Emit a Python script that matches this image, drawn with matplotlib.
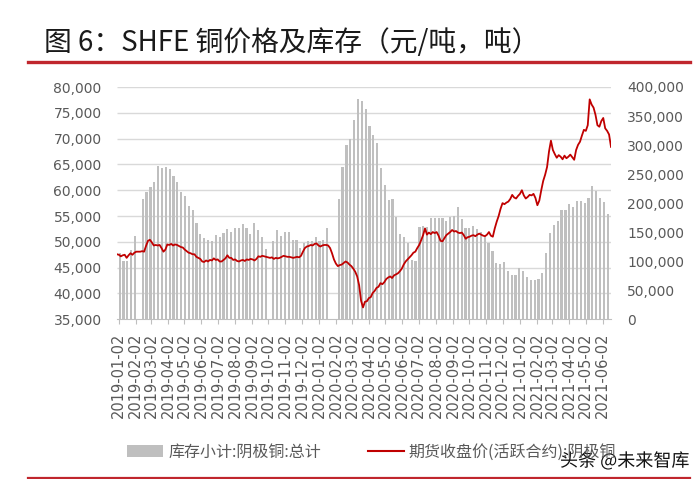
import numpy as np
import pandas as pd
import matplotlib
matplotlib.use("Agg")
import matplotlib.pyplot as plt
import matplotlib.dates as mdates
from matplotlib.patches import Patch
from matplotlib.lines import Line2D
from matplotlib.ticker import FuncFormatter
import matplotlib.patheffects as pe

plt.rcParams['font.family'] = ['Noto Sans CJK SC', 'DejaVu Sans']

# ---------------- data ----------------
title = "图 6：SHFE 铜价格及库存（元/吨，吨）"
bar_label = "库存小计:阴极铜:总计"
line_label = "期货收盘价(活跃合约):阴极铜"
watermark = "头条 @未来智库"

# weekly inventory (thousand tonnes), None = no data (holiday weeks)
inventory_k = [
    114, 100, 101, 120, 143, None,
    207, 220, 228, 237, 264, 260, 262, 258, 247, 237, 220, 212, 195, 188,
    166, 147, 140, 136, 134, 146, 142, 148, 155, 150, 157, 157, 164, 157,
    147, 165, 154, 142, 121, None,
    135, 154, 144, 151, 150, 137, 137, 122, 131, 134, 135, 142, 134, 137, 157,
    None, None,
    207, 263, 300, 310, 344, 379, 376, 362, 333, 318, 303, 260, 231, 205,
    208, 177, 147, 142, 131, 102, 100,
    159, 161, 159, 174, 174, 174, 174, 170, 177, 178, 194, 172, 157, 158,
    160, 156, 150, 142, 132, 118, 97, 96, 99, 83, 76, 76, 88, 83, 73, 68,
    67, 70, 79, 114, 148, 162, 170, 188, 188, 199, 194, 204, 204, 201, 209,
    230, 221, 209, 202, 181,
]
inventory_start = "2019-01-04"

# futures close price (thousand yuan/t), sampled roughly twice a week
price_k = [
    47.6, 47.5, 47.2, 47.4, 47.5, 46.9, 47.4, 47.8, 47.5, 47.9,
    48.1, 48.1, 48.1, 48.2, 48.1, 49.2, 50.2, 50.4, 49.9, 49.3,
    49.4, 49.3, 49.4, 48.8, 48.1, 48.5, 49.5, 49.4, 49.6, 49.3,
    49.5, 49.4, 49.2, 49.0, 48.9, 48.5, 48.2, 47.9, 47.8, 47.6,
    47.6, 47.1, 46.9, 46.7, 46.2, 46.1, 46.4, 46.2, 46.5, 46.4,
    46.8, 46.5, 46.6, 46.2, 46.2, 46.5, 46.8, 47.4, 46.9, 46.9,
    46.5, 46.6, 46.3, 46.2, 46.4, 46.5, 46.3, 46.6, 46.5, 46.7,
    46.6, 46.4, 46.7, 47.2, 47.1, 47.3, 47.2, 47.1, 47.0, 46.9,
    47.0, 46.7, 46.9, 46.8, 46.9, 47.1, 47.3, 47.2, 47.1, 47.1,
    47.0, 46.9, 47.0, 47.1, 47.0, 47.3, 48.1, 48.8, 49.1, 49.2,
    49.4, 49.3, 49.6, 49.7, 49.3, 49.1, 49.3, 49.4, 49.4, 49.3,
    48.8, 47.8, 46.6, 45.8, 45.3, 45.5, 45.6, 45.9, 46.2, 46.0,
    45.6, 45.3, 44.8, 44.2, 43.3, 41.6, 38.6, 37.3, 38.4, 38.5,
    39.1, 39.3, 40.1, 40.5, 41.1, 41.3, 42.0, 41.8, 42.2, 42.8,
    43.1, 43.3, 43.0, 43.5, 43.7, 43.9, 44.3, 44.8, 45.6, 46.2,
    46.6, 47.0, 47.4, 47.9, 48.1, 48.8, 49.4, 50.3, 51.3, 52.6,
    51.4, 51.8, 51.5, 51.9, 51.7, 51.9, 51.2, 50.2, 50.1, 50.7,
    51.3, 51.6, 51.9, 52.3, 52.0, 52.1, 51.8, 51.7, 51.8, 51.3,
    50.6, 50.9, 51.0, 51.2, 51.3, 51.1, 51.4, 51.6, 51.4, 51.2,
    51.1, 51.4, 51.9, 51.2, 51.0, 52.6, 53.9, 55.0, 56.4, 57.5,
    57.3, 57.6, 57.8, 58.3, 59.1, 58.6, 58.4, 58.9, 59.3, 60.0,
    59.0, 58.4, 58.7, 59.1, 59.0, 59.3, 58.5, 57.1, 58.0, 60.0,
    61.8, 63.0, 64.5, 67.5, 69.6, 67.8, 67.0, 66.3, 66.8, 66.5,
    66.0, 66.7, 66.2, 66.5, 66.9, 66.4, 65.9, 67.8, 68.8, 69.4,
    70.6, 71.7, 71.5, 72.6, 77.6, 76.6, 76.0, 74.6, 72.6, 72.3,
    73.4, 74.0, 72.0, 71.5, 70.8, 68.4,
]
price_start = "2018-12-30"
price_end = "2021-06-17"

left_ticks = [35000, 40000, 45000, 50000, 55000, 60000, 65000, 70000, 75000, 80000]
right_ticks = [0, 50000, 100000, 150000, 200000, 250000, 300000, 350000, 400000]
xtick_first = "2019-01-02"
xtick_last = "2021-06-02"

# ---------------- derived ----------------
inv = np.array([np.nan if v is None else v * 1000 for v in inventory_k], dtype=float)
inv_dates = pd.date_range(inventory_start, periods=len(inv), freq="7D")
price = np.array(price_k) * 1000
price_dates = pd.date_range(price_start, price_end, periods=len(price))
xticks = pd.DatetimeIndex([pd.Timestamp(xtick_first)]).append(
    pd.date_range("2019-02-01", xtick_last, freq="MS") + pd.Timedelta(days=1))

# ---------------- figure ----------------
W, H = 700, 479
fig = plt.figure(figsize=(W / 100, H / 100), dpi=100)
fig.patch.set_facecolor("white")

L, R, T, B = 117, 611, 87, 319.3
ax_bar = fig.add_axes([L / W, 1 - B / H, (R - L) / W, (B - T) / H])
ax_line = ax_bar.twinx()
ax_line.patch.set_visible(False)

grey_txt = "#595959"
bar_col = "#bfbfbf"
red = "#c00000"

# grid (at price ticks) drawn under the bars
grid_in_bar_units = [(p - left_ticks[0]) / (left_ticks[-1] - left_ticks[0]) * right_ticks[-1]
                     for p in left_ticks[1:]]
ax_bar.hlines(grid_in_bar_units, 0, 1, transform=ax_bar.get_yaxis_transform(),
              colors="#d9d9d9", linewidth=1.0, zorder=0)

ax_bar.bar(inv_dates, inv, width=4.0, color=bar_col, zorder=2, align="center")
ax_line.plot(price_dates, price, color=red, linewidth=1.3, zorder=3)

ax_bar.set_ylim(right_ticks[0], right_ticks[-1])
ax_line.set_ylim(left_ticks[0], left_ticks[-1])
ax_bar.set_xlim(pd.Timestamp("2018-12-30 02:00"), pd.Timestamp("2021-06-17"))

fmt = FuncFormatter(lambda v, p: f"{int(v):,}")
ax_bar.yaxis.tick_right()
ax_bar.set_yticks(right_ticks)
ax_bar.yaxis.set_major_formatter(fmt)
ax_line.yaxis.tick_left()
ax_line.set_yticks(left_ticks)
ax_line.yaxis.set_major_formatter(fmt)

for a in (ax_bar, ax_line):
    for s in ("top", "left", "right", "bottom"):
        a.spines[s].set_visible(False)
ax_bar.spines["bottom"].set_visible(True)
ax_bar.spines["bottom"].set_color("#bfbfbf")
ax_bar.spines["bottom"].set_zorder(4)

ax_bar.tick_params(axis="y", length=0, pad=11.5, labelsize=10, labelcolor=grey_txt)
ax_line.tick_params(axis="y", length=0, pad=11, labelsize=10, labelcolor=grey_txt)
for lab in ax_bar.get_yticklabels() + ax_line.get_yticklabels():
    lab.set_fontfamily("DejaVu Sans")

ax_bar.set_xticks(xticks)
ax_bar.xaxis.set_major_formatter(mdates.DateFormatter("%Y-%m-%d"))
ax_bar.tick_params(axis="x", length=3.5, width=0.8, color="#bfbfbf", pad=6,
                   labelsize=10.5, labelcolor=grey_txt, labelrotation=90)
for lab in ax_bar.get_xticklabels():
    lab.set_fontfamily("DejaVu Sans")

# title and rules
fig.text(44 / W, 1 - 43 / H, title, fontsize=20, color="#1a1a1a",
         ha="left", va="center")
fig.add_artist(Line2D([28 / W, 690 / W], [1 - 62 / H, 1 - 62 / H],
                      color="#c0262d", linewidth=2.4))
fig.add_artist(Line2D([28 / W, 690 / W], [1 - 477.5 / H, 1 - 477.5 / H],
                      color="#c0262d", linewidth=1.6))

# legend
handles = [Patch(facecolor=bar_col, edgecolor="none"),
           Line2D([], [], color=red, linewidth=1.5)]
fig.legend(handles, [bar_label, line_label], loc="center left",
           bbox_to_anchor=(113 / W, 1 - 452 / H), ncol=2, frameon=False,
           fontsize=11.5, handlelength=2.25, handletextpad=0.3,
           columnspacing=2.95, labelcolor=grey_txt)

fig.text(560 / W, 1 - 461 / H, watermark, fontsize=13, color="#111111",
         ha="left", va="center",
         path_effects=[pe.withStroke(linewidth=3, foreground="white")])

fig.savefig("out.png", dpi=100)
